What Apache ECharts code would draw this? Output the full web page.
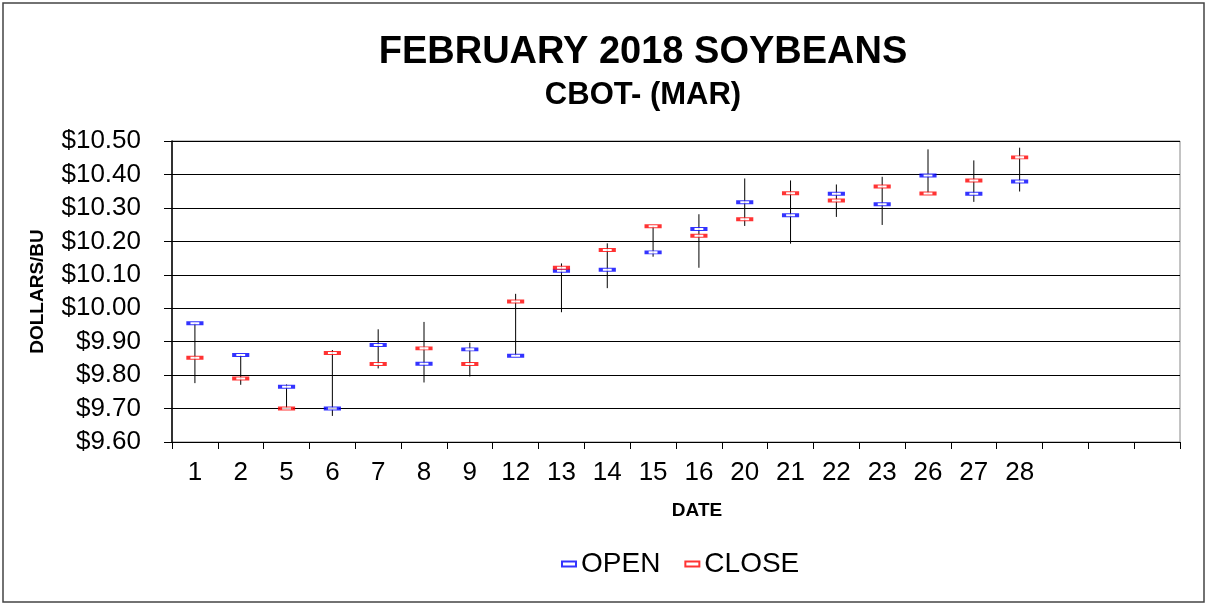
<!DOCTYPE html>
<html>
<head>
<meta charset="utf-8">
<script src="https://cdn.jsdelivr.net/npm/echarts@6/dist/echarts.min.js"></script>
<style>
  html, body { margin: 0; padding: 0; background: #fff; }
  #chart { width: 1207px; height: 606px; }
</style>
</head>
<body>
<div id="chart"></div>
<script>
// trading days in February 2018
var dates = ['1', '2', '5', '6', '7', '8', '9', '12', '13', '14', '15', '16', '20', '21', '22', '23', '26', '27', '28'];
var opens  = [9.955, 9.860, 9.765, 9.700, 9.890, 9.834, 9.877, 9.858, 10.112, 10.115, 10.167, 10.237, 10.317, 10.278, 10.342, 10.311, 10.397, 10.342, 10.379];
var closes = [9.852, 9.790, 9.700, 9.866, 9.833, 9.880, 9.833, 10.020, 10.121, 10.174, 10.245, 10.217, 10.266, 10.344, 10.322, 10.364, 10.343, 10.382, 10.451];
var highs  = [9.955, 9.860, 9.772, 9.875, 9.937, 9.959, 9.897, 10.043, 10.134, 10.194, 10.245, 10.281, 10.388, 10.382, 10.370, 10.393, 10.475, 10.442, 10.480];
var lows   = [9.776, 9.771, 9.700, 9.678, 9.820, 9.778, 9.796, 9.858, 9.988, 10.060, 10.154, 10.121, 10.246, 10.193, 10.273, 10.249, 10.343, 10.318, 10.349];
// empty slots on the right of the axis
var blanks = ['', '', ''];

var FONT = '"Liberation Sans", Arial, sans-serif';

var rangeData = [];
for (var i = 0; i < dates.length; i++) {
    rangeData.push([i, lows[i], highs[i]]);
}

var myChart = echarts.init(document.getElementById('chart'));

var option = {
    backgroundColor: '#fff',
    animation: false,
    title: [{
        text: 'FEBRUARY 2018 SOYBEANS',
        left: 638,
        textAlign: 'center',
        top: 29,
        textStyle: { fontFamily: FONT, fontSize: 38, fontWeight: 'bold', color: '#000' }
    }, {
        text: 'CBOT- (MAR)',
        left: 638,
        textAlign: 'center',
        top: 75,
        textStyle: { fontFamily: FONT, fontSize: 31, fontWeight: 'bold', color: '#000' }
    }],
    legend: {
        data: ['OPEN', 'CLOSE'],
        left: 556,
        top: 545,
        itemWidth: 14,
        itemHeight: 5,
        itemGap: 24,
        textStyle: { fontFamily: FONT, fontSize: 28, color: '#000' }
    },
    graphic: [{
        type: 'rect',
        shape: { x: 3, y: 3, width: 1201, height: 599 },
        style: { fill: 'none', stroke: '#444', lineWidth: 1.5 },
        silent: true
    }],
    grid: {
        left: 172,
        right: 27,
        top: 141,
        bottom: 164,
        show: true,
        borderColor: '#888',
        borderWidth: 1
    },
    xAxis: {
        type: 'category',
        data: dates.concat(blanks),
        name: 'DATE',
        nameLocation: 'middle',
        nameGap: 59,
        nameTextStyle: { fontFamily: FONT, fontSize: 19, fontWeight: 'bold', color: '#000', padding: [0, 0, 0, 42] },
        axisLine: { lineStyle: { color: '#000', width: 1 } },
        axisTick: { show: true, length: 7, lineStyle: { color: '#000' } },
        axisLabel: { fontFamily: FONT, fontSize: 26, color: '#000', margin: 18 }
    },
    yAxis: {
        type: 'value',
        min: 9.6,
        max: 10.5,
        interval: 0.1,
        name: 'DOLLARS/BU',
        nameLocation: 'middle',
        nameGap: 125,
        nameRotate: 90,
        nameTextStyle: { fontFamily: FONT, fontSize: 19, fontWeight: 'bold', color: '#000' },
        axisLine: { show: true, lineStyle: { color: '#000', width: 1.5 } },
        axisTick: { show: true, length: 8, lineStyle: { color: '#000' } },
        axisLabel: {
            fontFamily: FONT, fontSize: 26, color: '#000', margin: 31,
            formatter: function (v) { return '$' + v.toFixed(2); }
        },
        splitLine: { show: true, lineStyle: { color: '#000', width: 1 } }
    },
    series: [{
        name: 'range',
        type: 'custom',
        data: rangeData,
        encode: { x: 0, y: [1, 2] },
        renderItem: function (params, api) {
            var lo = api.coord([api.value(0), api.value(1)]);
            var hi = api.coord([api.value(0), api.value(2)]);
            return {
                type: 'line',
                shape: { x1: lo[0], y1: lo[1], x2: hi[0], y2: hi[1] },
                style: { stroke: '#000', lineWidth: 1 }
            };
        },
        z: 1
    }, {
        name: 'OPEN',
        type: 'scatter',
        data: opens,
        symbol: 'rect',
        symbolSize: [13, 3],
        itemStyle: { color: '#fff', borderColor: '#0000ff', borderWidth: 2 },
        z: 3
    }, {
        name: 'CLOSE',
        type: 'scatter',
        data: closes,
        symbol: 'rect',
        symbolSize: [13, 3],
        itemStyle: { color: '#fff', borderColor: '#ff0000', borderWidth: 2 },
        z: 3
    }]
};

myChart.setOption(option);
</script>
</body>
</html>
